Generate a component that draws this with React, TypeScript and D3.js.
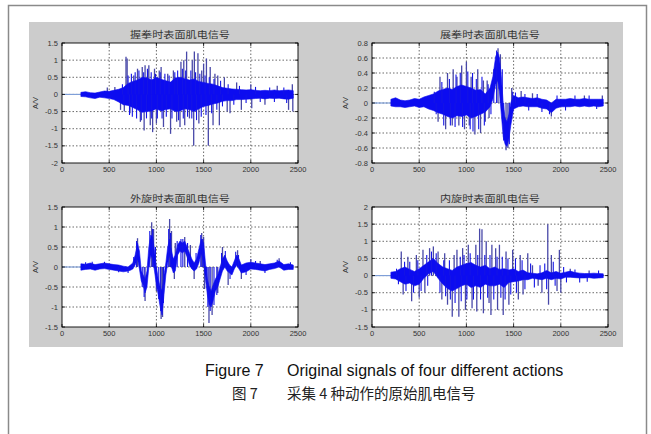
import React from "react";
import * as d3 from "d3";

// shared x axis
const xTicks = [0, 500, 1000, 1500, 2000, 2500];
const xTickLabels = ["0", "500", "1000", "1500", "2000", "2500"];

// 握拳 (grip)
const gripTicks = [1.5, 1, 0.5, 0, -0.5, -1, -1.5, -2];
const gripTickLabels = ["1.5", "1", "0.5", "0", "-0.5", "-1", "-1.5", "-2"];
const gripX = [200, 250, 300, 350, 400, 450, 500, 550, 600, 650, 700, 750, 800, 850, 900, 950, 1000, 1050, 1100, 1150, 1200, 1250, 1300, 1350, 1400, 1450, 1500, 1550, 1600, 1650, 1700, 1750, 1800, 1850, 1900, 1950, 2000, 2050, 2100, 2150, 2200, 2250, 2300, 2350, 2400, 2450];
const gripHi = [0.06, 0.08, 0.05, 0.04, 0.07, 0.1, 0.09, 0.12, 0.15, 0.2, 0.32, 0.38, 0.42, 0.5, 0.48, 0.42, 0.5, 0.44, 0.4, 0.36, 0.48, 0.5, 0.46, 0.42, 0.45, 0.38, 0.35, 0.32, 0.3, 0.25, 0.2, 0.18, 0.16, 0.15, 0.14, 0.13, 0.14, 0.12, 0.11, 0.12, 0.11, 0.13, 0.11, 0.12, 0.13, 0.11];
const gripLo = [-0.06, -0.07, -0.1, -0.12, -0.08, -0.1, -0.12, -0.15, -0.22, -0.3, -0.32, -0.38, -0.45, -0.52, -0.5, -0.48, -0.42, -0.48, -0.44, -0.42, -0.5, -0.48, -0.42, -0.44, -0.5, -0.42, -0.35, -0.32, -0.28, -0.25, -0.2, -0.18, -0.18, -0.15, -0.15, -0.14, -0.13, -0.12, -0.11, -0.13, -0.11, -0.12, -0.11, -0.13, -0.14, -0.11];
const gripSpikes: [number, number][] = [
  [480, 0.2], [560, 0.22], [620, -0.45], [660, -0.5], [678, 1.1], [690, 1.05], [720, -0.55], [760, 0.55],
  [800, 0.75], [830, -0.8], [850, 0.8], [870, -1.05], [880, 0.85], [910, 0.7], [920, 0.85], [935, -0.9],
  [960, -1.1], [980, 0.75], [1000, -0.85], [1030, 0.7], [1050, 0.8], [1075, -0.95], [1120, 0.6], [1150, -1.15],
  [1180, 0.7], [1215, -0.8], [1250, -0.95], [1260, 0.95], [1290, 1.0], [1300, -0.9], [1320, 1.25], [1350, -0.7],
  [1380, 1.0], [1395, -1.5], [1402, 1.25], [1440, 1.2], [1450, -0.85], [1480, 0.7], [1500, 0.9], [1530, 1.05],
  [1550, -1.5], [1570, 0.8], [1600, -0.9], [1620, 0.6], [1650, 0.55], [1667, -0.9], [1720, 0.5], [1750, -0.5],
  [1780, -0.55], [1850, 0.35], [1900, -0.45], [2000, 0.3], [2010, -0.4], [2150, -0.3], [2280, 0.25], [2400, -0.45],
  [2440, 0.3], [2445, -0.5],
];
const gripBursts: [number, number][] = [
  [640, 0.3], [655, -0.3], [700, 0.55], [715, -0.6], [735, 0.6], [745, -0.65], [775, 0.65], [790, -0.7],
  [815, 0.7], [840, -0.75], [865, 0.65], [895, -0.7], [905, 0.75], [945, 0.65], [950, -0.7], [990, 0.6],
  [1010, -0.7], [1040, 0.65], [1060, -0.7], [1090, 0.6], [1105, -0.65], [1135, 0.55], [1165, -0.7], [1195, 0.65],
  [1225, 0.7], [1235, -0.75], [1275, 0.75], [1285, -0.7], [1310, 0.7], [1330, -0.65], [1365, 0.7], [1375, -0.7],
  [1415, 0.65], [1425, -0.75], [1460, 0.6], [1475, -0.65], [1515, 0.55], [1525, -0.6], [1560, 0.5], [1585, -0.55],
  [1610, 0.45], [1640, -0.45], [1680, 0.4], [1700, -0.35], [1760, 0.3], [1820, -0.3], [1880, 0.25], [1950, -0.25],
  [2050, 0.22], [2100, -0.22], [2200, 0.2], [2250, -0.22], [2350, 0.2], [2380, -0.25],
];

// 展拳 (open hand)
const openTicks = [0.8, 0.6, 0.4, 0.2, 0, -0.2, -0.4, -0.6, -0.8];
const openTickLabels = ["0.8", "0.6", "0.4", "0.2", "0", "-0.2", "-0.4", "-0.6", "-0.8"];
const openX = [200, 250, 300, 350, 400, 450, 500, 550, 600, 650, 700, 750, 800, 850, 900, 950, 1000, 1050, 1100, 1150, 1200, 1250, 1280, 1310, 1330, 1350, 1370, 1390, 1410, 1430, 1450, 1470, 1500, 1550, 1600, 1650, 1700, 1750, 1800, 1850, 1900, 1950, 2000, 2050, 2100, 2150, 2200, 2250, 2300, 2350, 2400, 2450];
const openHi = [0.05, 0.07, 0.04, 0.03, 0.04, 0.06, 0.05, 0.08, 0.1, 0.12, 0.16, 0.18, 0.2, 0.18, 0.22, 0.24, 0.22, 0.2, 0.17, 0.18, 0.12, 0.2, 0.35, 0.62, 0.68, 0.6, 0.35, 0.0, -0.2, -0.25, -0.15, 0.0, 0.1, 0.07, 0.08, 0.07, 0.06, 0.07, 0.05, 0.04, 0.0, 0.05, 0.05, 0.05, 0.06, 0.05, 0.05, 0.06, 0.05, 0.05, 0.05, 0.05];
const openLo = [-0.04, -0.05, -0.05, -0.06, -0.05, -0.04, -0.06, -0.05, -0.08, -0.1, -0.13, -0.15, -0.18, -0.2, -0.17, -0.18, -0.16, -0.2, -0.18, -0.15, -0.12, -0.05, 0.05, 0.25, 0.3, 0.15, -0.15, -0.45, -0.55, -0.58, -0.48, -0.3, -0.08, -0.05, -0.04, -0.05, -0.05, -0.05, -0.07, -0.08, -0.13, -0.07, -0.05, -0.05, -0.05, -0.04, -0.05, -0.04, -0.05, -0.04, -0.05, -0.04];
const openSpikes: [number, number][] = [
  [700, -0.25], [720, 0.35], [780, -0.35], [800, 0.4], [850, -0.3], [860, 0.45], [900, 0.35], [920, -0.3],
  [950, 0.5], [980, -0.35], [1000, 0.55], [1030, -0.3], [1050, 0.35], [1090, -0.42], [1120, 0.45], [1150, -0.4],
  [1180, 0.3], [1200, -0.25], [1220, 0.3], [1240, -0.2], [1335, 0.73], [1360, 0.65], [1420, -0.63], [1440, -0.6],
  [1480, 0.2], [1580, 0.16], [1700, 0.13], [1900, -0.18], [2250, 0.1], [2440, 0.1],
];
const openBursts: [number, number][] = [
  [660, 0.15], [680, -0.15], [740, 0.28], [760, -0.3], [820, 0.32], [830, -0.3], [880, -0.32], [890, 0.38],
  [935, 0.4], [960, -0.32], [1015, 0.42], [1040, -0.35], [1065, 0.4], [1070, -0.38], [1105, 0.32], [1130, -0.35],
  [1165, 0.35], [1190, -0.3], [1230, 0.25], [1260, -0.15], [1290, 0.45], [1320, 0.7], [1380, 0.45], [1395, -0.5],
  [1455, -0.55], [1490, 0.15], [1520, 0.14], [1620, 0.12], [1660, -0.1], [1750, 0.12], [1800, -0.12], [1880, -0.15],
  [1960, 0.1], [2050, -0.1], [2150, 0.1], [2300, 0.1], [2380, -0.08],
];

// 外旋 (external rotation)
const extTicks = [1.5, 1, 0.5, 0, -0.5, -1, -1.5];
const extTickLabels = ["1.5", "1", "0.5", "0", "-0.5", "-1", "-1.5"];
const extX = [200, 250, 300, 350, 400, 450, 500, 550, 600, 650, 700, 725, 750, 775, 800, 820, 840, 860, 880, 900, 920, 940, 960, 980, 1000, 1020, 1040, 1060, 1080, 1100, 1120, 1140, 1160, 1180, 1200, 1225, 1250, 1275, 1300, 1325, 1350, 1375, 1400, 1425, 1450, 1475, 1500, 1520, 1540, 1560, 1580, 1600, 1625, 1650, 1675, 1700, 1725, 1750, 1775, 1800, 1825, 1850, 1875, 1900, 1950, 2000, 2050, 2100, 2150, 2200, 2250, 2300, 2350, 2400, 2450];
const extHi = [0.08, 0.07, 0.1, 0.06, 0.08, 0.1, 0.08, 0.06, 0.05, 0.02, 0.0, 0.05, 0.1, 0.3, 0.6, 0.4, -0.1, -0.2, -0.3, -0.1, 0.5, 0.8, 0.75, 0.4, 0.0, -0.3, -0.5, -0.6, -0.2, 0.1, 0.5, 0.7, 0.4, 0.2, 0.3, 0.55, 0.65, 0.6, 0.65, 0.5, 0.35, 0.2, 0.1, 0.2, 0.45, 0.7, 0.6, 0.1, -0.3, -0.5, -0.6, -0.45, -0.3, -0.2, 0.0, 0.2, 0.3, 0.15, 0.05, 0.0, 0.15, 0.3, 0.2, 0.05, 0.1, 0.12, 0.1, 0.08, 0.06, 0.08, 0.1, 0.15, 0.06, 0.08, 0.05];
const extLo = [-0.08, -0.06, -0.05, -0.08, -0.05, -0.04, -0.06, -0.08, -0.1, -0.12, -0.1, -0.08, -0.05, 0.05, 0.2, -0.05, -0.35, -0.45, -0.65, -0.5, 0.0, 0.3, 0.2, -0.1, -0.45, -0.7, -1.0, -1.2, -0.7, -0.2, 0.1, 0.3, 0.0, -0.15, -0.1, 0.3, 0.4, 0.35, 0.4, 0.25, 0.05, -0.05, -0.1, -0.05, 0.1, 0.35, 0.1, -0.3, -0.7, -0.95, -1.0, -0.85, -0.6, -0.5, -0.3, -0.1, 0.0, -0.1, -0.15, -0.2, -0.05, 0.05, -0.05, -0.15, -0.12, -0.05, -0.06, -0.08, -0.1, -0.06, -0.04, 0.0, -0.08, -0.06, -0.06];
const extSpikes: [number, number][] = [
  [800, 0.72], [880, -0.85], [950, 1.12], [970, 0.95], [1000, -0.6], [1050, -1.3], [1065, -1.25], [1140, 1.2],
  [1160, 0.9], [1190, -0.3], [1200, 0.6], [1300, 0.75], [1360, 0.55], [1400, -0.3], [1480, 0.85], [1500, 0.75],
  [1510, -0.55], [1557, -1.4], [1590, -1.2], [1650, -0.65], [1700, 0.5], [1760, -0.45], [1860, 0.42], [1900, -0.3],
  [2000, 0.2], [2100, 0.15], [2300, 0.22],
];
const extBursts: [number, number][] = [
  [250, 0.12], [320, 0.13], [450, 0.13], [600, -0.13], [700, -0.15], [760, 0.25], [790, 0.65], [850, -0.5],
  [870, -0.75], [930, 0.9], [960, 0.95], [990, 0.5], [1025, -0.8], [1045, -1.1], [1075, -0.9], [1130, 0.95],
  [1150, 0.85], [1220, 0.65], [1260, 0.7], [1280, 0.7], [1330, 0.6], [1420, 0.35], [1470, 0.8], [1490, 0.7],
  [1530, -0.4], [1545, -1.0], [1570, -1.1], [1610, -0.95], [1640, -0.7], [1690, 0.35], [1730, 0.4], [1780, -0.3],
  [1840, 0.38], [1870, 0.3], [1950, -0.2], [2050, 0.15], [2150, -0.15], [2280, 0.18], [2420, 0.12],
];

// 内旋 (internal rotation)
const intTicks = [2, 1.5, 1, 0.5, 0, -0.5, -1, -1.5];
const intTickLabels = ["2", "1.5", "1", "0.5", "0", "-0.5", "-1", "-1.5"];
const intX = gripX;
const intHi = [0.1, 0.12, 0.2, 0.25, 0.18, 0.12, 0.2, 0.3, 0.4, 0.5, 0.35, 0.25, 0.2, 0.15, 0.25, 0.3, 0.35, 0.38, 0.3, 0.25, 0.3, 0.2, 0.25, 0.18, 0.2, 0.16, 0.2, 0.12, 0.16, 0.08, 0.07, 0.05, 0.08, 0.15, 0.08, 0.12, 0.07, 0.1, 0.13, 0.09, 0.07, 0.06, 0.06, 0.07, 0.06, 0.05];
const intLo = [-0.08, -0.1, -0.18, -0.25, -0.22, -0.3, -0.25, -0.08, 0.05, 0.12, -0.08, -0.25, -0.38, -0.45, -0.38, -0.3, -0.25, -0.35, -0.3, -0.35, -0.25, -0.3, -0.3, -0.25, -0.35, -0.2, -0.18, -0.16, -0.12, -0.12, -0.08, -0.1, -0.12, -0.08, -0.12, -0.08, -0.1, -0.05, -0.05, -0.06, -0.07, -0.07, -0.06, -0.08, -0.07, -0.06];
const intSpikes: [number, number][] = [
  [310, 0.7], [330, -0.55], [380, 0.55], [420, -0.75], [470, 0.6], [500, -0.65], [540, 0.75], [560, -0.5],
  [610, 0.8], [650, 0.85], [700, 0.7], [740, -0.7], [770, 0.65], [800, -0.85], [850, -1.2], [870, 0.6],
  [900, 0.75], [920, -1.2], [960, 0.8], [990, -1.0], [1020, 0.9], [1060, -0.95], [1100, 0.9], [1110, -1.05],
  [1140, 1.37], [1165, 1.35], [1180, -1.1], [1210, 1.0], [1240, -0.8], [1260, -1.15], [1270, 0.9], [1310, 0.8],
  [1330, -1.0], [1350, 0.9], [1390, -1.15], [1420, 0.7], [1450, -0.85], [1490, 0.75], [1550, -0.7], [1570, 0.6],
  [1600, -0.55], [1650, 0.65], [1700, 0.3], [1760, -0.3], [1800, -0.5], [1862, 1.5], [1870, -0.85], [1900, 0.6],
  [1960, -0.45], [1985, 0.75], [2000, -0.5], [2100, 0.2], [2300, 0.15],
];
const intBursts: [number, number][] = [
  [260, 0.2], [280, -0.25], [345, 0.4], [360, -0.45], [400, 0.4], [440, -0.5], [485, 0.45], [520, -0.45],
  [580, 0.6], [590, -0.3], [630, 0.7], [680, 0.65], [720, -0.5], [760, 0.45], [780, -0.6], [820, 0.45],
  [830, -0.7], [880, -0.8], [935, 0.55], [945, -0.75], [975, 0.6], [1005, -0.7], [1040, 0.65], [1075, -0.7],
  [1120, 0.6], [1150, -0.7], [1195, 0.6], [1225, -0.65], [1250, 0.6], [1290, -0.7], [1325, 0.55], [1365, -0.65],
  [1380, 0.55], [1410, -0.7], [1440, 0.5], [1470, -0.55], [1520, 0.5], [1530, -0.5], [1590, 0.45], [1620, -0.4],
  [1680, 0.35], [1720, -0.35], [1780, 0.3], [1830, 0.35], [1850, -0.4], [1920, 0.4], [1940, -0.3], [2030, 0.25],
  [2060, -0.2], [2150, 0.18], [2200, -0.2], [2280, -0.18], [2400, 0.15],
];

const titles = ["握拳时表面肌电信号", "展拳时表面肌电信号", "外旋时表面肌电信号", "内旋时表面肌电信号"];

const panels = [
  { title: titles[0], ticks: gripTicks, tickLabels: gripTickLabels, xs: gripX, hi: gripHi, lo: gripLo, spikes: gripSpikes, bursts: gripBursts, left: 62, top: 43 },
  { title: titles[1], ticks: openTicks, tickLabels: openTickLabels, xs: openX, hi: openHi, lo: openLo, spikes: openSpikes, bursts: openBursts, left: 372, top: 43 },
  { title: titles[2], ticks: extTicks, tickLabels: extTickLabels, xs: extX, hi: extHi, lo: extLo, spikes: extSpikes, bursts: extBursts, left: 62, top: 207 },
  { title: titles[3], ticks: intTicks, tickLabels: intTickLabels, xs: intX, hi: intHi, lo: intLo, spikes: intSpikes, bursts: intBursts, left: 372, top: 207 },
];

const W = 236;
const H = 120;
const tickFont = "'Liberation Sans', Arial, sans-serif";

function Panel({ p, idx }: { p: (typeof panels)[number]; idx: number }) {
  const x = d3.scaleLinear().domain([0, 2500]).range([p.left, p.left + W]);
  const y = d3
    .scaleLinear()
    .domain([p.ticks[p.ticks.length - 1], p.ticks[0]])
    .range([p.top + H, p.top]);

  const band = d3
    .area<number>()
    .x((_, i) => x(p.xs[i]))
    .y0((_, i) => y(p.lo[i]))
    .y1((d) => y(d));

  const clipId = `clip-${idx}`;

  return (
    <g>
      <defs>
        <clipPath id={clipId}>
          <rect x={p.left} y={p.top} width={W} height={H} />
        </clipPath>
      </defs>
      <rect x={p.left} y={p.top} width={W} height={H} fill="#fff" />

      {/* dotted grid */}
      {xTicks.slice(1, -1).map((t) => (
        <line key={"gx" + t} x1={x(t)} x2={x(t)} y1={p.top} y2={p.top + H} stroke="#444" strokeWidth={0.8} strokeDasharray="1.5,2" />
      ))}
      {p.ticks.slice(1, -1).map((t) => (
        <line key={"gy" + t} x1={p.left} x2={p.left + W} y1={y(t)} y2={y(t)} stroke="#444" strokeWidth={0.8} strokeDasharray="1.5,2" />
      ))}

      <g clipPath={`url(#${clipId})`}>
        <line x1={x(0)} x2={x(p.xs[0])} y1={y(0)} y2={y(0)} stroke="#7f9fd8" strokeWidth={1.2} />
        {p.spikes.map(([sx, sv], i) => (
          <line key={"s" + i} x1={x(sx)} x2={x(sx)} y1={y(0)} y2={y(sv)} stroke="#4848a8" strokeWidth={1.3} />
        ))}
        <path d={band(p.hi) || ""} fill="#0c0cf0" stroke="#0c0cf0" strokeWidth={0.6} />
        {p.bursts.map(([bx, bv], i) => (
          <line key={"b" + i} x1={x(bx)} x2={x(bx)} y1={y(0)} y2={y(bv)} stroke="#1414e6" strokeWidth={1.1} />
        ))}
      </g>

      <rect x={p.left} y={p.top} width={W} height={H} fill="none" stroke="#000" strokeWidth={0.9} />

      {/* ticks */}
      {xTicks.map((t) => (
        <g key={"xt" + t}>
          <line x1={x(t)} x2={x(t)} y1={p.top + H} y2={p.top + H - 3} stroke="#000" strokeWidth={0.8} />
          <line x1={x(t)} x2={x(t)} y1={p.top} y2={p.top + 3} stroke="#000" strokeWidth={0.8} />
        </g>
      ))}
      {p.ticks.map((t) => (
        <g key={"yt" + t}>
          <line x1={p.left} x2={p.left + 3} y1={y(t)} y2={y(t)} stroke="#000" strokeWidth={0.8} />
          <line x1={p.left + W} x2={p.left + W - 3} y1={y(t)} y2={y(t)} stroke="#000" strokeWidth={0.8} />
        </g>
      ))}

      {/* labels */}
      {xTicks.map((t, i) => (
        <text key={"xl" + t} x={x(t)} y={p.top + H + 9} textAnchor="middle" fontSize={7.5} fontFamily={tickFont} fill="#333">
          {xTickLabels[i]}
        </text>
      ))}
      {p.ticks.map((t, i) => (
        <text key={"yl" + t} x={p.left - 4} y={y(t) + 2.5} textAnchor="end" fontSize={7.5} fontFamily={tickFont} fill="#333">
          {p.tickLabels[i]}
        </text>
      ))}
      <text
        transform={`translate(${p.left - 24},${p.top + H / 2}) rotate(-90)`}
        textAnchor="middle"
        fontSize={7.5}
        fontFamily={tickFont}
        fill="#333"
      >
        A/V
      </text>
      <text
        x={p.left + W / 2}
        y={p.top - 5}
        textAnchor="middle"
        fontSize={9}
        textLength={100}
        lengthAdjust="spacingAndGlyphs"
        fontFamily="'Noto Sans CJK SC', sans-serif"
        fill="#333"
      >
        {p.title}
      </text>
    </g>
  );
}

export default function App() {
  return (
    <div style={{ position: "absolute", left: 0, top: 0 }}>
      <svg width={651} height={434} style={{ display: "block", background: "#fff" }}>
        <rect x={8.5} y={5.5} width={638} height={440} fill="none" stroke="#8a8a8a" strokeWidth={1.5} />
        <rect x={29} y={22} width={594} height={325} fill="#cccccc" />
        {panels.map((p, i) => (
          <Panel key={i} p={p} idx={i} />
        ))}
        <g fontFamily="'Liberation Sans', Arial, sans-serif" fontSize={16} fill="#111">
          <text x={205} y={376}>Figure 7</text>
          <text x={287} y={376}>Original signals of four different actions</text>
        </g>
        <g fontFamily="'Noto Sans CJK SC', sans-serif" fontSize={14.5} fill="#222">
          <text x={232} y={399}>图 7</text>
          <text x={287} y={399}>采集 4 种动作的原始肌电信号</text>
        </g>
      </svg>
    </div>
  );
}
